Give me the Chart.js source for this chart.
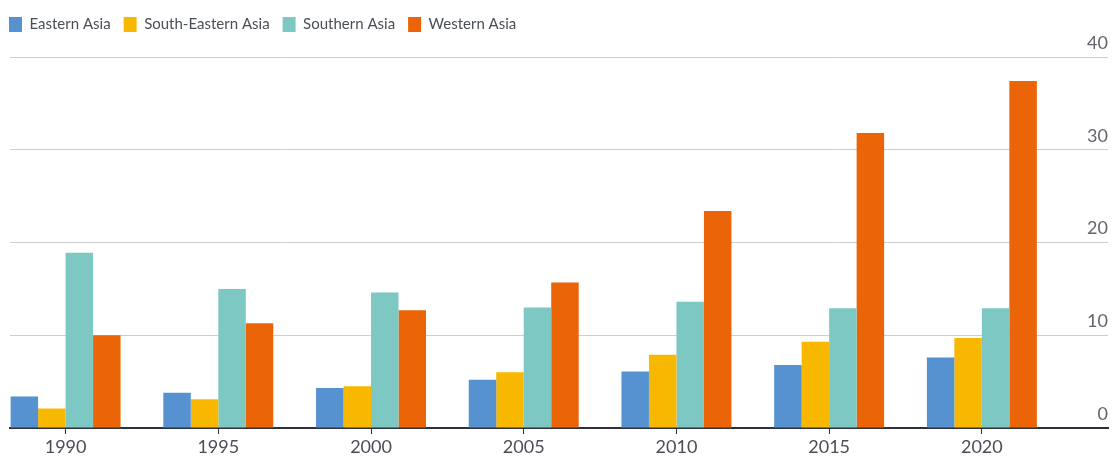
<!DOCTYPE html>
<html>
<head>
<meta charset="utf-8">
<script src="https://cdn.jsdelivr.net/npm/chart.js@4.4.1/dist/chart.umd.min.js"></script>
<style>
  html, body { margin: 0; padding: 0; background: #ffffff; }
  #wrap { position: relative; width: 1112px; height: 457px; }
</style>
</head>
<body>
<div id="wrap"><canvas id="c" width="1112" height="457"></canvas></div>
<script>
// ---- data ----
const categories = [1990, 1995, 2000, 2005, 2010, 2015, 2020];
const seriesNames = ['Eastern Asia', 'South-Eastern Asia', 'Southern Asia', 'Western Asia'];
const easternAsia = [3.4, 3.8, 4.3, 5.2, 6.1, 6.8, 7.6];
const southEasternAsia = [2.1, 3.1, 4.5, 6.0, 7.9, 9.3, 9.7];
const southernAsia = [18.9, 15.0, 14.6, 13.0, 13.6, 12.9, 12.9];
const westernAsia = [10.0, 11.3, 12.7, 15.7, 23.4, 31.8, 37.4];
const yTicks = [0, 10, 20, 30, 40];

const seriesValues = [easternAsia, southEasternAsia, southernAsia, westernAsia];
const colors = ['#5592CF', '#F9B800', '#7DC8C3', '#EB6407'];

const datasets = seriesNames.map((name, i) => ({
  label: name,
  data: categories.map((yr, j) => ({ x: yr, y: seriesValues[i][j] })),
  backgroundColor: colors[i],
  borderWidth: 0,
  categoryPercentage: 0.72,
  barPercentage: 1.0
}));

const FONT = "Lato, 'Open Sans', 'DejaVu Sans', sans-serif";
const LEG_PAD = 13;

new Chart(document.getElementById('c'), {
  type: 'bar',
  data: { datasets },
  options: {
    responsive: false,
    animation: false,
    layout: { padding: { left: 9 - LEG_PAD, right: 4, top: 4, bottom: -4 } },
    plugins: {
      tooltip: { enabled: false },
      legend: {
        position: 'top',
        align: 'start',
        labels: {
          boxWidth: 13,
          boxHeight: 15,
          padding: LEG_PAD,
          color: '#4a4e57',
          font: { family: FONT, size: 15 }
        }
      }
    },
    scales: {
      x: {
        type: 'linear',
        min: 1988.18,
        max: 2024.13,
        offset: false,
        grid: {
          display: true,
          offset: false,
          drawOnChartArea: false,
          drawTicks: true,
          tickLength: 6,
          color: '#2e3040',
          lineWidth: 1
        },
        border: { display: true, color: '#2e3040', width: 2 },
        ticks: {
          stepSize: 5,
          includeBounds: false,
          autoSkip: false,
          maxRotation: 0,
          padding: 4.5,
          color: '#4a4e57',
          font: { family: FONT, size: 18, lineHeight: 1 },
          callback: (v) => String(v)
        }
      },
      xTop: {
        type: 'linear',
        position: 'top',
        display: true,
        grid: { display: false },
        border: { display: false },
        ticks: { display: false },
        afterFit: (s) => { s.height = 15; }
      },
      y: {
        type: 'linear',
        position: 'right',
        min: 0,
        max: 40,
        afterBuildTicks: (s) => { s.ticks = yTicks.map(v => ({ value: v })); },
        grid: { color: '#cdcdd4', lineWidth: 1, drawTicks: false },
        border: { display: false },
        ticks: {
          mirror: true,
          padding: 0,
          labelOffset: -14,
          color: '#62656d',
          font: { family: FONT, size: 18 },
          callback: (v) => String(v)
        }
      },
      yLeft: {
        type: 'linear',
        position: 'left',
        display: true,
        grid: { display: false },
        border: { display: false },
        ticks: { display: false },
        afterFit: (s) => { s.width = 10 - (9 - LEG_PAD); }
      }
    }
  }
});
</script>
</body>
</html>
